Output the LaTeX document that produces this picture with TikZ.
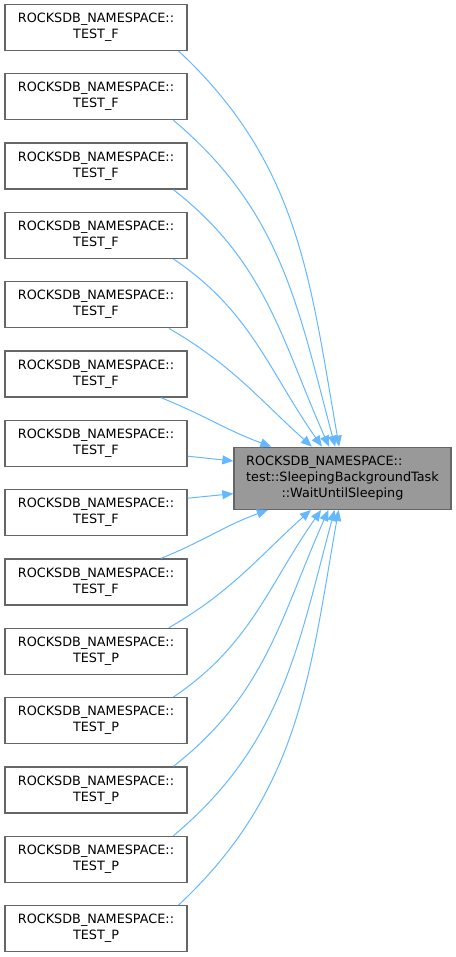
\documentclass[tikz,border=0pt]{standalone}
\usepackage{fontspec}
\setmainfont{DejaVu Sans}
\usetikzlibrary{arrows.meta}
\definecolor{edgeblue}{HTML}{63B8FF}
\definecolor{boxgray}{HTML}{999999}
\definecolor{boxline}{HTML}{666666}
\begin{document}
\begin{tikzpicture}[x=0.75pt, y=0.75pt,
  caller/.style={draw=boxline, fill=white, line width=1pt, minimum width=136.5pt, minimum height=34.5pt, inner sep=0pt, align=center, font=\fontsize{9.6}{12}\selectfont},
  callee/.style={caller, fill=boxgray, minimum width=162.75pt, minimum height=46.5pt},
  edge/.style={draw=edgeblue, line width=0.75pt, -{Triangle[length=8.25pt,width=6.75pt]}}]
\useasboundingbox (0,0) rectangle (456,-957);

\node[caller] (f1) at (96,-27.3){ROCKSDB\_NAMESPACE::\\TEST\_F};
\node[caller] (f2) at (96,-96.6){ROCKSDB\_NAMESPACE::\\TEST\_F};
\node[caller] (f3) at (96,-166.0){ROCKSDB\_NAMESPACE::\\TEST\_F};
\node[caller] (f4) at (96,-235.3){ROCKSDB\_NAMESPACE::\\TEST\_F};
\node[caller] (f5) at (96,-304.7){ROCKSDB\_NAMESPACE::\\TEST\_F};
\node[caller] (f6) at (96,-374.0){ROCKSDB\_NAMESPACE::\\TEST\_F};
\node[caller] (f7) at (96,-443.3){ROCKSDB\_NAMESPACE::\\TEST\_F};
\node[caller] (f8) at (96,-512.7){ROCKSDB\_NAMESPACE::\\TEST\_F};
\node[caller] (f9) at (96,-582.0){ROCKSDB\_NAMESPACE::\\TEST\_F};
\node[caller] (p1) at (96,-651.4){ROCKSDB\_NAMESPACE::\\TEST\_P};
\node[caller] (p2) at (96,-720.7){ROCKSDB\_NAMESPACE::\\TEST\_P};
\node[caller] (p3) at (96,-790.0){ROCKSDB\_NAMESPACE::\\TEST\_P};
\node[caller] (p4) at (96,-859.4){ROCKSDB\_NAMESPACE::\\TEST\_P};
\node[caller] (p5) at (96,-928.7){ROCKSDB\_NAMESPACE::\\TEST\_P};

\node[callee] (wait) at (342.5,-478.3){\begin{tabular}{@{}l@{}}ROCKSDB\_NAMESPACE::\\test::SleepingBackgroundTask\\\multicolumn{1}{@{}c@{}}{::WaitUntilSleeping}\end{tabular}};

\draw[edge] (f1.-16.8) to[out=-43, in=100] (wait.96.4);
\draw[edge] (f2.-17) to[out=-40, in=105] (wait.103.6);
\draw[edge] (f3.-17.3) to[out=-38, in=114] (wait.113.5);
\draw[edge] (f4.-17.8) to[out=-34, in=125] (wait.123.5);
\draw[edge] (f5.-18.4) to[out=-30, in=138] (wait.134.5);
\draw[edge] (f6.-20.4) to[out=-22, in=160] (wait.156.3);
\draw[edge] (f7.-8.1) -- (wait.171.1);
\draw[edge] (f8.9) -- (wait.188.9);
\draw[edge] (f9.20.4) to[out=22, in=-160] (wait.203.7);
\draw[edge] (p1.18.4) to[out=30, in=-138] (wait.225.5);
\draw[edge] (p2.17.8) to[out=34, in=-125] (wait.236.5);
\draw[edge] (p3.17.3) to[out=38, in=-114] (wait.246.5);
\draw[edge] (p4.17) to[out=40, in=-105] (wait.256.4);
\draw[edge] (p5.16.8) to[out=43, in=-100] (wait.263.6);
\end{tikzpicture}
\end{document}
